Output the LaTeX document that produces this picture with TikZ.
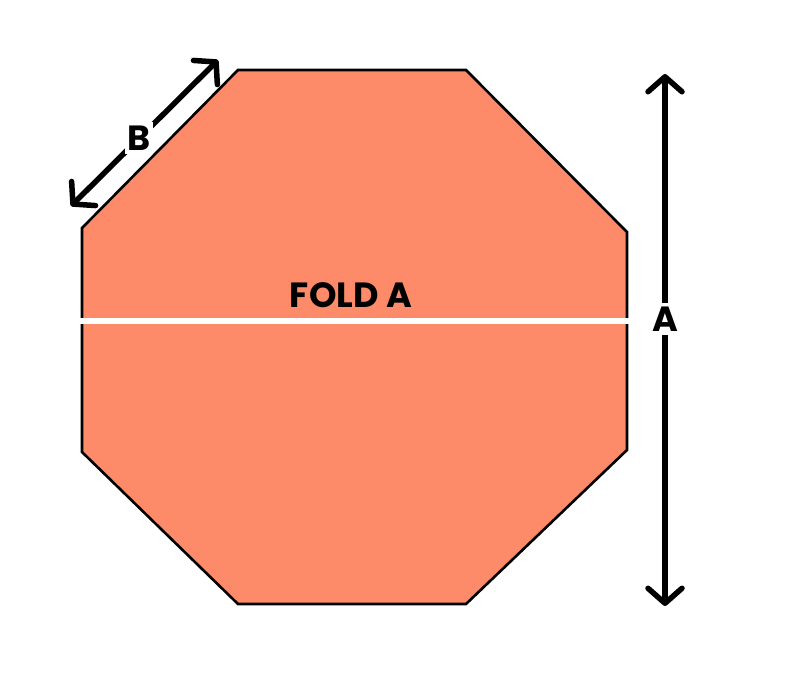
\documentclass[tikz,border=0pt]{standalone}
\usepackage{fontspec}
\setmainfont{Poppins}
\usetikzlibrary{arrows.meta}
\definecolor{salmon}{RGB}{253,139,105}
\tikzset{
  octo/.style={fill=salmon, draw=black, line width=2.6pt, line join=miter},
  foldline/.style={draw=white, line width=5.5pt},
  dimarrow/.style={draw=black, line width=5.5pt, {Straight Barb[length=15pt,width=34pt,line cap=round,line join=round]}-{Straight Barb[length=15pt,width=34pt,line cap=round,line join=round]}},
  lbl/.style={font=\bfseries\fontsize{35}{35}\selectfont, inner sep=0pt, anchor=base},
  lblbg/.style={lbl, fill=white, inner xsep=2pt, inner ysep=3.5pt}
}
\begin{document}
\begin{tikzpicture}[x=1pt,y=-1pt]
\useasboundingbox (0,0) rectangle (800,689);
\fill[white] (0,0) rectangle (800,689);
\draw[octo] (238,70) -- (466,70) -- (627,232) -- (627,450) -- (466,604) -- (238,604) -- (82,452) -- (82,228) -- cycle;
\coordinate (fl) at (80,321);
\coordinate (fr) at (630,321);
\draw[foldline] (fl) -- (fr);
\node[lbl] (fold) at (351,307.5) {FOLD A};
\coordinate (at) at (665,74);
\coordinate (ab) at (665,606);
\draw[dimarrow] (ab) -- (at);
\node[lblbg] (la) at (665,331.5) {A};
\coordinate (bl) at (71,206);
\coordinate (bu) at (218,60);
\draw[dimarrow] (bl) -- (bu);
\node[lblbg] (lb) at (139,150) {B};
\end{tikzpicture}
\end{document}
